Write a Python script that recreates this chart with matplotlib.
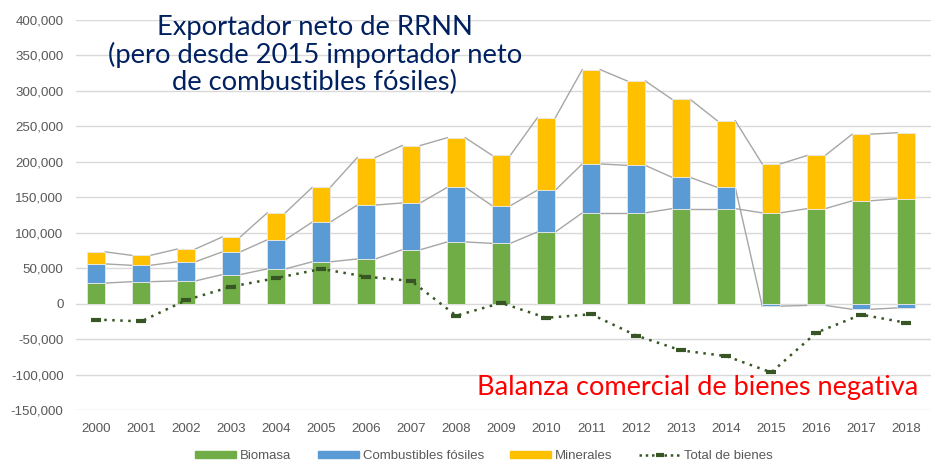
import numpy as np
import matplotlib.pyplot as plt
from matplotlib.lines import Line2D
from matplotlib.patches import Patch

years = list(range(2000, 2019))
biomasa = [29000, 31000, 32000, 41000, 49000, 59000, 63000, 76000, 87000, 85000,
           101000, 128000, 128000, 134000, 134000, 128000, 134000, 145000, 148000]
combustibles = [27000, 23000, 27000, 32000, 41000, 56000, 76000, 66000, 77000, 53000,
                59000, 69000, 67000, 44000, 30000, -3500, -2500, -8000, -6000]
minerales = [17000, 14000, 18000, 21000, 38000, 49000, 67000, 81000, 70000, 71000,
             102000, 133000, 119000, 110000, 94000, 69000, 75000, 94000, 93000]
total_bienes = [-22500, -25000, 5000, 24000, 36000, 49000, 38000, 32000, -17000, 1000,
                -20000, -15000, -45000, -66000, -74000, -97000, -41000, -15500, -27000]

c_bio = '#70AD47'
c_fos = '#5B9BD5'
c_min = '#FFC000'
c_tot = '#375623'
txt_col = '#595959'

plt.rcParams['font.family'] = ['Liberation Sans', 'DejaVu Sans']

fig = plt.figure(figsize=(9.33, 4.63), dpi=100)
ax = fig.add_axes([76 / 933, 1 - 410 / 463, (931 - 76) / 933, 390 / 463])

x = np.arange(len(years))
w = 0.4
bio = np.array(biomasa)
fos = np.array(combustibles)
mins = np.array(minerales)

# stacking like Excel: positives on top of each other, negatives below zero
fos_bottom = np.where(fos >= 0, bio, 0)
min_bottom = bio + np.clip(fos, 0, None)

ax.bar(x, bio, w, color=c_bio, edgecolor='#E8E8E8', linewidth=0.6, zorder=3)
ax.bar(x, fos, w, bottom=fos_bottom, color=c_fos, edgecolor='#E8E8E8', linewidth=0.6, zorder=3)
ax.bar(x, mins, w, bottom=min_bottom, color=c_min, edgecolor='#E8E8E8', linewidth=0.6, zorder=3)

# series lines between bars
tops = [bio, fos_bottom + fos, min_bottom + mins]
for t in tops:
    for i in range(len(x) - 1):
        ax.plot([x[i] + w / 2, x[i + 1] - w / 2], [t[i], t[i + 1]],
                color='#A6A6A6', linewidth=1.0, zorder=2)

ax.plot(x, total_bienes, color=c_tot, linestyle=(0, (1, 2.2)), linewidth=1.8,
        marker='_', markersize=7, markeredgewidth=3, zorder=4)

ax.set_xlim(-0.45, len(years) - 0.45)
ax.set_ylim(-150000, 400000)
ax.set_yticks(np.arange(-150000, 400001, 50000))
ax.yaxis.set_major_formatter(plt.FuncFormatter(lambda v, p: f'{int(v):,}'))
ax.set_xticks(x)
ax.set_xticklabels([str(y) for y in years])
ax.tick_params(axis='both', length=0, labelsize=9.6, colors=txt_col)
ax.tick_params(axis='x', pad=9)
ax.tick_params(axis='y', pad=9)
ax.grid(axis='y', color='#D9D9D9', linewidth=1.0, zorder=0)
ax.set_axisbelow(True)
for s in ax.spines.values():
    s.set_visible(False)

fig.text(315 / 933, 1 - 55 / 463,
         'Exportador neto de RRNN\n(pero desde 2015 importador neto\nde combustibles fósiles)',
         ha='center', va='center', fontsize=19.7, color='#002060',
         family=['Lato', 'DejaVu Sans'], linespacing=1.1)
fig.text(918 / 933, 1 - 388 / 463, 'Balanza comercial de bienes negativa',
         ha='right', va='center', fontsize=19.5, color='#FF0000',
         family=['Lato', 'DejaVu Sans'])

handles = [Patch(color=c_bio, label='Biomasa'),
           Patch(color=c_fos, label='Combustibles fósiles'),
           Patch(color=c_min, label='Minerales'),
           Line2D([], [], color=c_tot, linestyle=(0, (1, 1.5)), linewidth=1.8,
                  marker='_', markersize=6, markeredgewidth=3, label='Total de bienes')]
leg = fig.legend(handles=handles, loc='center', bbox_to_anchor=(484 / 933, 1 - 456 / 463),
                 ncol=4, frameon=False, fontsize=9.5, handlelength=3.1, handleheight=0.5,
                 columnspacing=2.0, handletextpad=0.3)
for t in leg.get_texts():
    t.set_color(txt_col)

fig.savefig('out.png', dpi=100)
